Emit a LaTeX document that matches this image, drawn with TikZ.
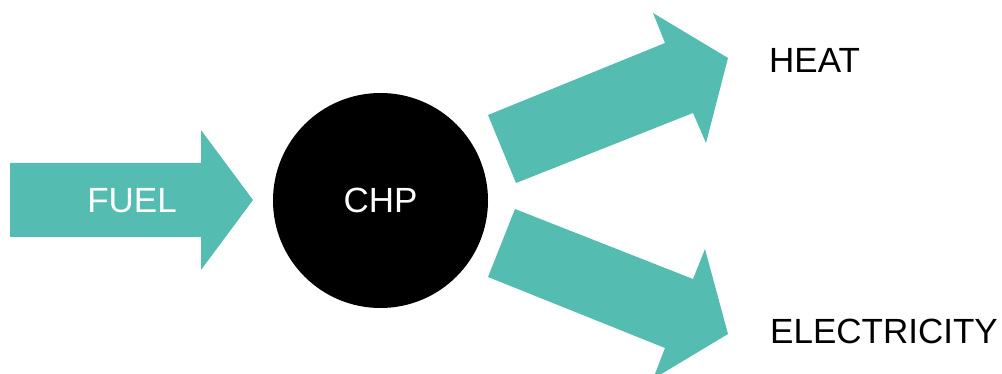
\documentclass[tikz,border=0pt]{standalone}
\usepackage{fontspec}
\setmainfont{Liberation Sans}
\definecolor{teal1}{RGB}{84,188,176}
\begin{document}
\begin{tikzpicture}[x=1pt,y=-1pt,
  flow/.style={fill=teal1,draw=none},
  lbl/.style={font=\fontsize{35}{40}\selectfont,inner sep=0pt},
  disc/.style={circle,fill=black,minimum size=215pt,inner sep=0pt}]
\useasboundingbox (0,0) rectangle (1002,374);
% fuel arrow
\fill[flow] (10,163) -- (201,163) -- (201,130) -- (253,200) -- (201,270) -- (201,237) -- (10,237) -- cycle;
% CHP
\node[disc] (chp) at (380.5,200.5) {};
% heat arrow
\fill[flow] (488,115) -- (665,43) -- (653,13) -- (728,58) -- (706,143) -- (693,113) -- (516,183) -- cycle;
% electricity arrow
\fill[flow] (515,209) -- (693,279) -- (705,249) -- (728,334) -- (653,379) -- (665,348) -- (488,277) -- cycle;
% labels
\node[lbl,text=white,anchor=base] (fuel) at (132,213) {FUEL};
\node[lbl,text=white,anchor=base] (chplbl) at (380.5,213) {CHP};
\node[lbl,anchor=base west] (heat) at (769,73) {HEAT};
\node[lbl,anchor=base west] (elec) at (770,343) {ELECTRICITY};
\end{tikzpicture}
\end{document}
